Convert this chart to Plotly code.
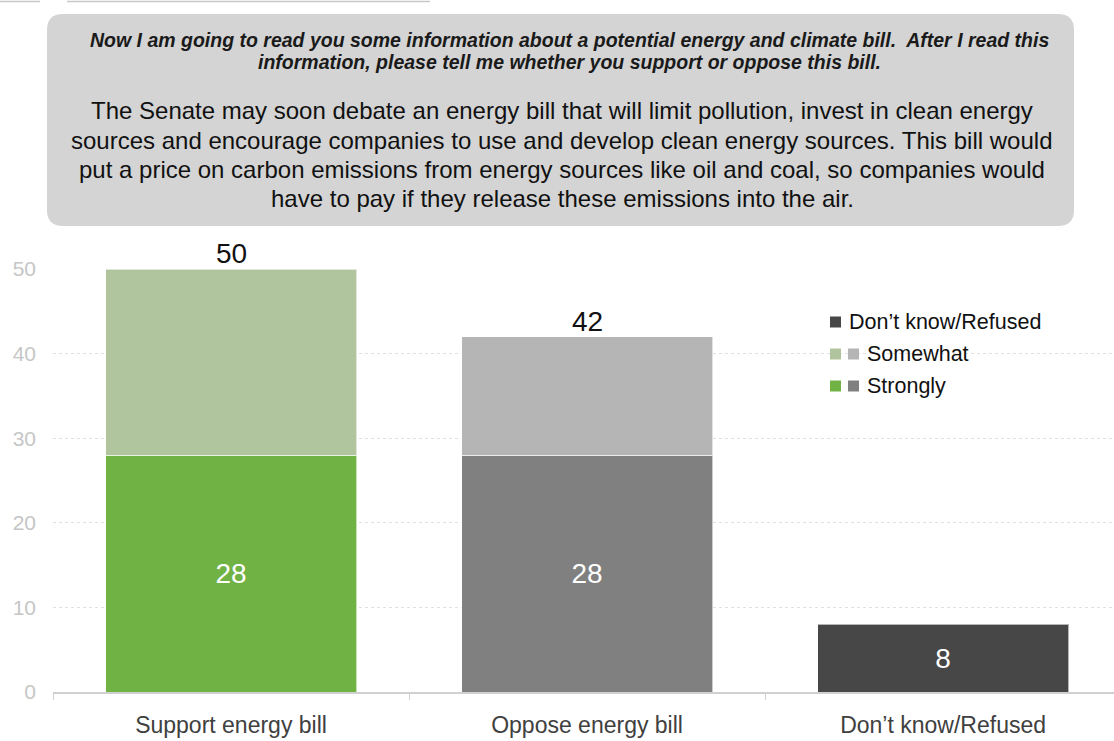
import plotly.graph_objects as go

categories = ["Support energy bill", "Oppose energy bill", "Don\u2019t know/Refused"]
strongly = [28, 28, None]
somewhat = [22, 14, None]
dont_know = [None, None, 8]
y_ticks = [0, 10, 20, 30, 40, 50]

strong_colors = ["#70b244", "#808080", "#808080"]
some_colors = ["#b0c59e", "#b5b5b5", "#b5b5b5"]
dk_color = "#474747"

header_q_lines = ["Now I am going to read you some information about a potential energy and climate bill.  After I read this",
                  "information, please tell me whether you support or oppose this bill."]
header_txt_lines = ["The Senate may soon debate an energy bill that will limit pollution, invest in clean energy",
                    "sources and encourage companies to use and develop clean energy sources. This bill would",
                    "put a price on carbon emissions from energy sources like oil and coal, so companies would",
                    "have to pay if they release these emissions into the air."]

W, H = 1114, 741
FONT = "Liberation Sans, Arial, sans-serif"

def px(x):
    return x / W

def py(y):
    return 1 - y / H

fig = go.Figure()
line_col = "rgba(255,255,255,0.6)"
fig.add_trace(go.Bar(x=categories, y=strongly, name="Strongly",
                     marker=dict(color=strong_colors, line=dict(color=line_col, width=1)),
                     text=[("" if v is None else str(v)) for v in strongly],
                     textposition="inside", insidetextanchor="middle",
                     textfont=dict(color="white", size=28, family=FONT),
                     hoverinfo="skip", showlegend=False))
fig.add_trace(go.Bar(x=categories, y=somewhat, name="Somewhat",
                     marker=dict(color=some_colors, line=dict(color=line_col, width=1)),
                     hoverinfo="skip", showlegend=False))
fig.add_trace(go.Bar(x=categories, y=dont_know, name="Don\u2019t know/Refused",
                     marker=dict(color=dk_color, line=dict(color=line_col, width=1)),
                     text=[("" if v is None else str(v)) for v in dont_know],
                     textposition="inside", insidetextanchor="middle",
                     textfont=dict(color="white", size=28, family=FONT),
                     hoverinfo="skip", showlegend=False))

annotations = []
for i, c in enumerate(categories):
    if strongly[i] is not None:
        total = (strongly[i] or 0) + (somewhat[i] or 0)
        annotations.append(dict(x=c, y=total, xref="x", yref="y", text=str(total),
                                showarrow=False, yanchor="bottom", yshift=-2,
                                font=dict(size=28, color="#111111", family=FONT)))

# header box text
for k, line in enumerate(header_q_lines):
    annotations.append(dict(x=px(569), y=py(40 + 22 * k), xref="paper", yref="paper",
                            text="<b><i>" + line + "</i></b>",
                            showarrow=False, xanchor="center", yanchor="middle",
                            font=dict(size=19.5, color="#1a1a1a", family=FONT)))
for k, line in enumerate(header_txt_lines):
    annotations.append(dict(x=px(562), y=py(111 + 29 * k), xref="paper", yref="paper", text=line,
                            showarrow=False, xanchor="center", yanchor="middle",
                            font=dict(size=24, color="#111111", family=FONT)))

# legend
legend_rows = [("Don\u2019t know/Refused", [dk_color], 322),
               ("Somewhat", [some_colors[0], some_colors[1]], 354),
               ("Strongly", [strong_colors[0], strong_colors[1]], 386)]
shapes = []
for label, cols, yc in legend_rows:
    x0 = 830
    for col in cols:
        shapes.append(dict(type="rect", xref="paper", yref="paper",
                           x0=px(x0), x1=px(x0 + 11), y0=py(yc - 5.5), y1=py(yc + 5.5),
                           fillcolor=col, line=dict(width=0)))
        x0 += 18
    annotations.append(dict(x=px(x0 - 1), y=py(yc), xref="paper", yref="paper", text=label,
                            showarrow=False, xanchor="left", yanchor="middle",
                            font=dict(size=21.5, color="#111111", family=FONT)))

# rounded header box
bx0, bx1, by0, by1, r = 47, 1074, 14, 226, 16
path = (f"M {px(bx0 + r)},{py(by0)} L {px(bx1 - r)},{py(by0)} Q {px(bx1)},{py(by0)} {px(bx1)},{py(by0 + r)} "
        f"L {px(bx1)},{py(by1 - r)} Q {px(bx1)},{py(by1)} {px(bx1 - r)},{py(by1)} "
        f"L {px(bx0 + r)},{py(by1)} Q {px(bx0)},{py(by1)} {px(bx0)},{py(by1 - r)} "
        f"L {px(bx0)},{py(by0 + r)} Q {px(bx0)},{py(by0)} {px(bx0 + r)},{py(by0)} Z")
shapes.insert(0, dict(type="path", xref="paper", yref="paper", path=path,
                      fillcolor="#d4d4d4", line=dict(width=0), layer="below"))
# thin lines at top-left
shapes.append(dict(type="line", xref="paper", yref="paper", x0=0, x1=px(40), y0=py(1.5), y1=py(1.5),
                   line=dict(color="#c8c8c8", width=1.5)))
shapes.append(dict(type="line", xref="paper", yref="paper", x0=px(67), x1=px(430), y0=py(1.5), y1=py(1.5),
                   line=dict(color="#c8c8c8", width=1.5)))

fig.update_layout(
    width=W, height=H, margin=dict(l=0, r=0, t=0, b=0, autoexpand=False),
    paper_bgcolor="white", plot_bgcolor="white",
    barmode="stack", bargap=0.295,
    font=dict(family=FONT),
    annotations=annotations, shapes=shapes,
    showlegend=False,
    xaxis=dict(domain=[px(53), 1], range=[-0.5, 2.48], type="category", automargin=False,
               showline=True, linecolor="#d0d0d0", linewidth=1.5,
               ticks="outside", tickson="boundaries", ticklen=6, tickcolor="#d0d0d0",
               ticklabelstandoff=12,
               tickfont=dict(size=23, color="#404040", family=FONT),
               showgrid=False, zeroline=False),
    yaxis=dict(domain=[1 - 692 / H, 1 - 269 / H], range=[0, 50], automargin=False,
               tickvals=y_ticks, ticktext=[str(v) for v in y_ticks],
               tickfont=dict(size=21, color="#c6c6c6", family=FONT),
               ticklabelstandoff=16,
               showgrid=True, gridcolor="#e0e0e0", griddash="dot", gridwidth=1,
               zeroline=False, showline=False, ticks=""),
)

fig.write_html("out.html", config={"displayModeBar": False},
               post_script="document.body.style.margin='0';")
